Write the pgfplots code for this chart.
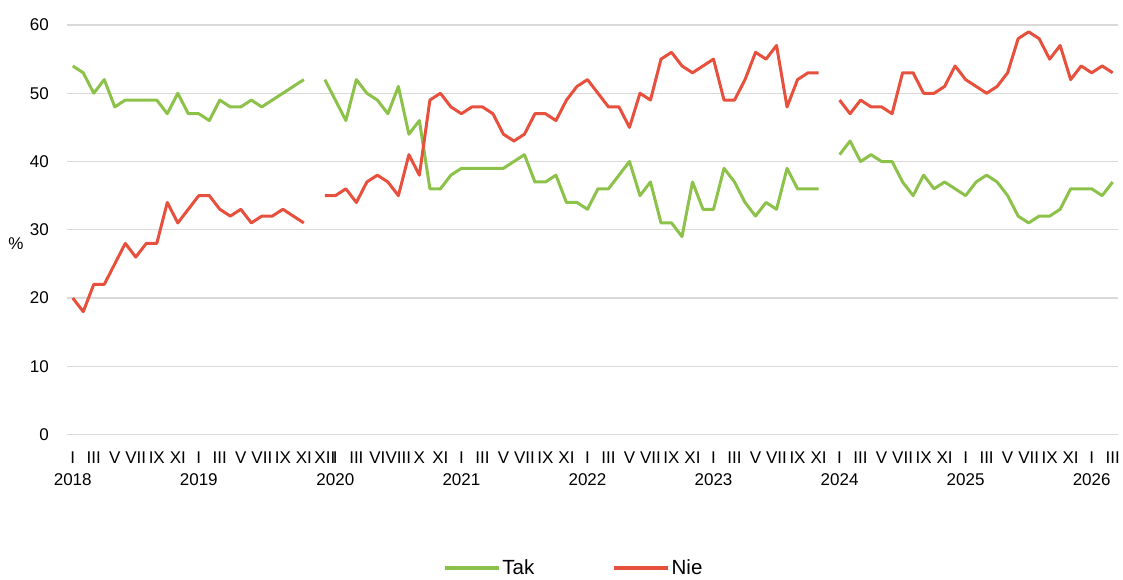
\documentclass[border=0pt]{standalone}
\usepackage{pgfplots}
\pgfplotsset{compat=1.18}
\usepackage{pgfplotstable}
\usepackage{fontspec}
\setmainfont{Liberation Sans}
\definecolor{takc}{RGB}{140,193,74}
\definecolor{niec}{RGB}{232,80,62}
\definecolor{gridc}{RGB}{217,217,217}
\pgfplotstableread{
idx tak nie
0 54 20
1 53 18
2 50 22
3 52 22
4 48 25
5 49 28
6 49 26
7 49 28
8 49 28
9 47 34
10 50 31
11 47 33
12 47 35
13 46 35
14 49 33
15 48 32
16 48 33
17 49 31
18 48 32
19 49 32
20 50 33
21 51 32
22 52 31
23 nan nan
24 52 35
25 49 35
26 46 36
27 52 34
28 50 37
29 49 38
30 47 37
31 51 35
32 44 41
33 46 38
34 36 49
35 36 50
36 38 48
37 39 47
38 39 48
39 39 48
40 39 47
41 39 44
42 40 43
43 41 44
44 37 47
45 37 47
46 38 46
47 34 49
48 34 51
49 33 52
50 36 50
51 36 48
52 38 48
53 40 45
54 35 50
55 37 49
56 31 55
57 31 56
58 29 54
59 37 53
60 33 54
61 33 55
62 39 49
63 37 49
64 34 52
65 32 56
66 34 55
67 33 57
68 39 48
69 36 52
70 36 53
71 36 53
72 nan nan
73 41 49
74 43 47
75 40 49
76 41 48
77 40 48
78 40 47
79 37 53
80 35 53
81 38 50
82 36 50
83 37 51
84 36 54
85 35 52
86 37 51
87 38 50
88 37 51
89 35 53
90 32 58
91 31 59
92 32 58
93 32 55
94 33 57
95 36 52
96 36 54
97 36 53
98 35 54
99 37 53
}\datatable
\begin{document}
\begin{tikzpicture}
\begin{axis}[
  at={(0pt,0pt)}, anchor=south west,
  scale only axis,
  width=1050.5pt, height=409.5pt,
  xmin=-0.5, xmax=99.5, ymin=0, ymax=60,
  clip=false,
  unbounded coords=jump,
  axis line style={draw=none},
  major tick length=0pt,
  ytick={0,10,...,60},
  ymajorgrids,
  grid style={gridc, line width=1.4pt},
  /pgf/number format/assume math mode=true,
  every tick label/.append style={font=\fontsize{17}{22}\selectfont},
  yticklabel style={inner sep=0pt, anchor=east, xshift=-18.5pt},
  xticklabel style={inner sep=0pt, anchor=north, yshift=-17.5pt, align=center},
  xtick={0,2,4,6,8,10,12,14,16,18,20,22,24,25,27,29,31,33,35,37,39,41,43,45,47,49,51,53,55,57,59,61,63,65,67,69,71,73,75,77,79,81,83,85,87,89,91,93,95,97,99},
  xticklabels={{I\\2018},III,V,VII,IX,XI,{I\\2019},III,V,VII,IX,XI,XII,{I\\2020},III,VI,VIII,X,XI,{I\\2021},III,V,VII,IX,XI,{I\\2022},III,V,VII,IX,XI,{I\\2023},III,V,VII,IX,XI,{I\\2024},III,V,VII,IX,XI,{I\\2025},III,V,VII,IX,XI,{I\\2026},III},
  ylabel={\%},
  ylabel style={rotate=-90, at={(axis description cs:-0.0492,0.467)}, anchor=center, font=\fontsize{17}{22}\selectfont},
  legend columns=2,
  legend style={draw=none, fill=none, at={(axis description cs:0.482,-0.326)}, anchor=center,
    font=\fontsize{20.5}{24}\selectfont,
    /tikz/every even column/.append style={column sep=76pt},
    /tikz/every odd column/.append style={column sep=0pt}},
  legend cell align=left,
  legend image code/.code={\draw[#1, line width=3.3pt] (0pt,0pt) -- (54pt,0pt);},
]
\addplot[takc, line width=3pt, line join=round] table[x=idx, y=tak] {\datatable};
\addlegendentry{Tak}
\addplot[niec, line width=3pt, line join=round] table[x=idx, y=nie] {\datatable};
\addlegendentry{Nie}
\end{axis}
\pgfresetboundingbox
\path[use as bounding box] (-67.5pt,-144.5pt) rectangle (1055.5pt,434.5pt);
\end{tikzpicture}
\end{document}
